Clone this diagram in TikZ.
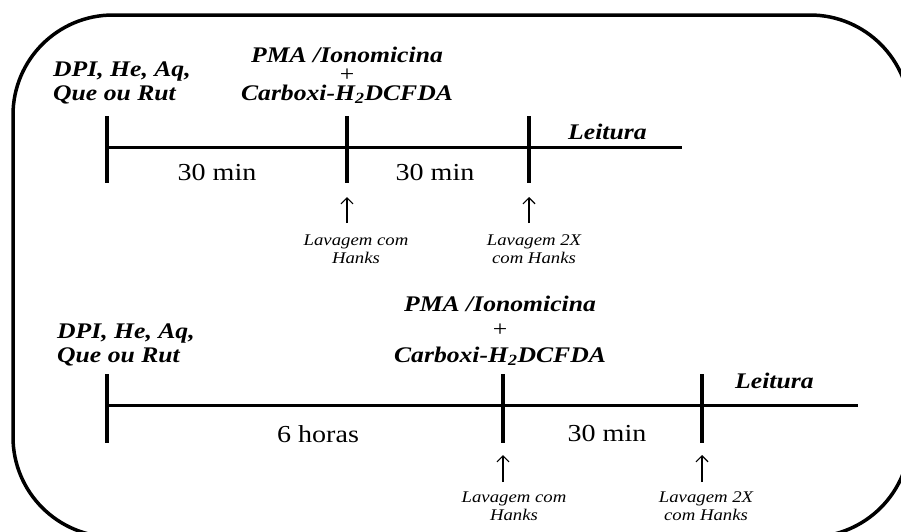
\documentclass[tikz,border=0pt]{standalone}
\usepackage{fontspec}
\setmainfont{Liberation Serif}[FakeStretch=1.15]
\usetikzlibrary{arrows.meta}
\begin{document}
\begin{tikzpicture}[x=1pt,y=-1pt]

\tikzset{droga/.style={font=\fontsize{22.3}{24}\selectfont\bfseries\itshape,align=left,inner sep=0pt}}
\tikzset{estim/.style={font=\fontsize{22.3}{19}\selectfont\bfseries\itshape,align=center,inner sep=0pt}}
\tikzset{tempo/.style={font=\fontsize{24.4}{24}\selectfont,inner sep=0pt}}
\tikzset{lavagem/.style={font=\fontsize{16.3}{18}\selectfont\itshape,align=center,inner sep=0pt}}
\tikzset{eixo/.style={line width=3pt},marco/.style={line width=4pt}}
\tikzset{seta/.style={line width=1.2pt,-{Straight Barb[length=6pt,width=12pt]}}}

\useasboundingbox (0,0) rectangle (901,531);
\begin{scope}
\clip (0,0) rectangle (901,531);
\draw[line width=3.5pt,rounded corners=100pt] (13,15) rectangle (910,537);
\end{scope}

% 30 min
\coordinate (a1) at (107,147);
\coordinate (a2) at (347,147);
\coordinate (a3) at (529,147);
\coordinate (a4) at (682,147);
\draw[eixo] (a1) -- (a4);
\foreach \t in {a1,a2,a3}
  \draw[marco] ([yshift=31pt]\t) -- ([yshift=-36pt]\t);

\node[droga,anchor=base west] (ag1) at (53,100) {DPI, He, Aq,\\Que ou Rut};
\node[estim,anchor=base] (st1) at (347,100)
  {PMA /Ionomicina\\{\mdseries\upshape +}\\Carboxi-H\textsubscript{2}DCFDA};
\node[droga,anchor=base west] (le1) at (568,139) {Leitura};
\node[tempo,anchor=base] (d1) at (217,180) {30 min};
\node[tempo,anchor=base] (d2) at (435,180) {30 min};

\coordinate (p1) at (347,197);
\coordinate (p2) at (529,197);
\node[lavagem,anchor=base] (w1) at (356,263) {Lavagem com\\Hanks};
\node[lavagem,anchor=base] (w2) at (534,263) {Lavagem 2X\\com Hanks};
\draw[seta] ([yshift=-26pt]p1) -- (p1);
\draw[seta] ([yshift=-26pt]p2) -- (p2);

% 6 horas
\coordinate (b1) at (107,405);
\coordinate (b2) at (503,405);
\coordinate (b3) at (702,405);
\coordinate (b4) at (858,405);
\draw[eixo] (b1) -- (b4);
\foreach \t in {b1,b2,b3}
  \draw[marco] ([yshift=31pt]\t) -- ([yshift=-38pt]\t);

\node[droga,anchor=base west] (ag2) at (57,362) {DPI, He, Aq,\\Que ou Rut};
\node[estim,anchor=base,font=\fontsize{22.3}{25.5}\selectfont\bfseries\itshape] (st2) at (500,362)
  {PMA /Ionomicina\\{\mdseries\upshape +}\\Carboxi-H\textsubscript{2}DCFDA};
\node[droga,anchor=base west] (le2) at (735,388) {Leitura};
\node[tempo,anchor=base] (d3) at (318,442) {6 horas};
\node[tempo,anchor=base] (d4) at (607,441) {30 min};

\coordinate (q1) at (503,455);
\coordinate (q2) at (702,455);
\node[lavagem,anchor=base] (w3) at (514,520) {Lavagem com\\Hanks};
\node[lavagem,anchor=base] (w4) at (706,520) {Lavagem 2X\\com Hanks};
\draw[seta] ([yshift=-27pt]q1) -- (q1);
\draw[seta] ([yshift=-27pt]q2) -- (q2);

\end{tikzpicture}
\end{document}
